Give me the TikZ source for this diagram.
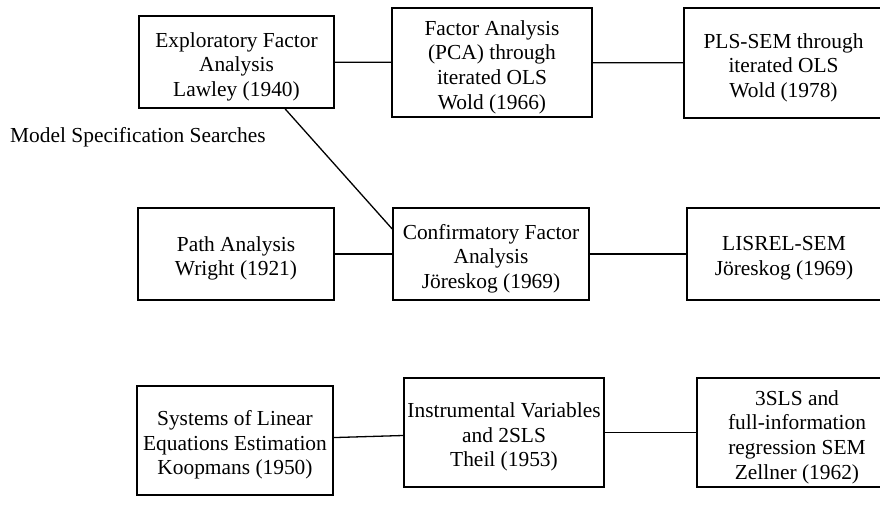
\documentclass[tikz,border=0pt]{standalone}
\usepackage{fontspec}
\setmainfont{Liberation Serif}

\begin{document}
\begin{tikzpicture}[x=1pt,y=-1pt,
  txt/.style={align=center,inner sep=0pt,font=\fontsize{21.4}{24.6}\selectfont},
  box/.style n args={3}{draw,line width=1.5pt,minimum width=#1,minimum height=#2,
    label={[txt,yshift=-4.5pt]center:{#3}}},
  link/.style={line width=1.3pt}]
  \useasboundingbox (0,0) rectangle (880,512);
  \node[box={195}{92}{Exploratory Factor\\Analysis\\Lawley (1940)}] (efa) at (236.5,62) {};
  \node[box={200}{109}{Factor Analysis\\(PCA) through\\iterated OLS\\Wold (1966)}] (pca) at (492,62.5) {};
  \node[box={199}{110}{PLS-SEM through\\iterated OLS\\Wold (1978)}] (pls) at (783.5,63) {};
  \node[box={196}{92}{Path Analysis\\Wright (1921)}] (path) at (236,254) {};
  \node[box={196}{92}{Confirmatory Factor\\Analysis\\J\"oreskog (1969)}] (cfa) at (491,254) {};
  \node[box={194}{92}{LISREL-SEM\\J\"oreskog (1969)}] (lisrel) at (784,254) {};
  \node[box={196}{109}{Systems of Linear\\Equations Estimation\\Koopmans (1950)}] (sle) at (235,440.5) {};
  \node[box={200}{109}{Instrumental Variables\\and 2SLS\\Theil (1953)}] (iv) at (504,432.5) {};
  \node[box={200}{109}{3SLS and\\full-information\\regression SEM\\Zellner (1962)}] (sls) at (797,432.5) {};
  \node[txt,anchor=west] (mss) at (10,137) {Model Specification Searches};
  \draw[link] (efa) -- (pca);
  \draw[link] (pca) -- (pls);
  \draw[link] (path) -- (cfa);
  \draw[link] (cfa) -- (lisrel);
  \draw[link] (sle) -- (iv);
  \draw[link] (iv) -- (sls);
  \draw[link] ([xshift=48.5pt]efa.south) -- ([yshift=25pt]cfa.west);
\end{tikzpicture}
\end{document}
